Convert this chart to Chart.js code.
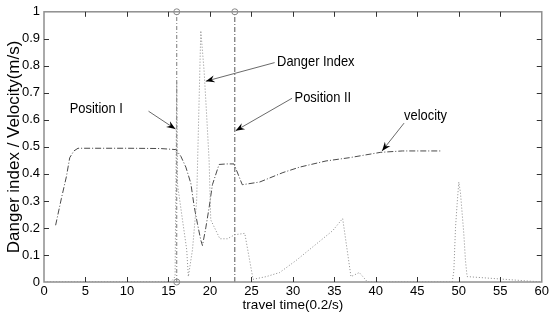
<!DOCTYPE html>
<html>
<head>
<meta charset="utf-8">
<script src="https://cdn.jsdelivr.net/npm/chart.js@4.4.1/dist/chart.umd.min.js"></script>
<style>
html, body { margin: 0; padding: 0; background: #fff; }
</style>
</head>
<body>
<canvas id="dangerChart" width="551" height="320"></canvas>
<script>
// values
var velocityX = [1.4, 2.1, 2.7, 3.1, 3.6, 4.1, 6, 10, 14, 15.9, 16.5, 17.1, 17.7, 18.1, 18.5, 18.9, 19.1, 19.5, 19.9, 20.3, 21.1, 22, 22.9, 23.9, 26, 28.8, 30.8, 34, 36.8, 40.6, 43.2, 48];
var velocityY = [0.21, 0.31, 0.39, 0.46, 0.485, 0.495, 0.495, 0.495, 0.494, 0.49, 0.465, 0.425, 0.365, 0.28, 0.215, 0.155, 0.135, 0.2, 0.275, 0.36, 0.435, 0.437, 0.437, 0.36, 0.37, 0.405, 0.425, 0.448, 0.46, 0.48, 0.485, 0.485];

var dangerX = [0, 15.3, 15.8, 16, 16.1, 16.6, 17.2, 17.4, 17.9, 18.4, 18.9, 19.3, 19.6, 19.9, 20.1, 21.2, 22.1, 23, 24.2, 25.2, 26.8, 28.4, 30.4, 32.4, 34.8, 36, 37, 38, 39, 49.2, 49.4, 49.6, 49.8, 50, 50.2, 50.6, 50.8, 51, 60];
var dangerY = [0, 0, 0.02, 0.74, 0.36, 0.25, 0.12, 0.02, 0.12, 0.3, 0.93, 0.78, 0.62, 0.45, 0.23, 0.16, 0.16, 0.175, 0.18, 0.01, 0.02, 0.035, 0.08, 0.13, 0.19, 0.235, 0.02, 0.035, 0, 0, 0.04, 0.2, 0.29, 0.37, 0.33, 0.18, 0.08, 0.02, 0];

var positionX = [16, 23];
var positionLabels = ['Position I', 'Position II'];

var xTickStep = 5;
var yTickStep = 0.1;

function toPoints(xs, ys) {
    var pts = [];
    for (var i = 0; i < xs.length; i++) pts.push({x: xs[i], y: ys[i]});
    return pts;
}

var sans = "'Liberation Sans', Arial, sans-serif";

// text + arrow callouts, in data units
var callouts = [
    {text: 'Position I',   tx: 3.1,  ty: 0.64,  fx: 12.6, fy: 0.632, ax: 15.85, ay: 0.566},
    {text: 'Danger Index', tx: 28.1, ty: 0.816, fx: 27.8, fy: 0.812, ax: 19.5,  ay: 0.743},
    {text: 'Position II',  tx: 30.2, ty: 0.68,  fx: 29.9, fy: 0.68,  ax: 23.1,  ay: 0.56},
    {text: 'velocity',     tx: 43.4, ty: 0.614, fx: 43.4, fy: 0.588, ax: 40.75, ay: 0.485}
];

var framePlugin = {
    id: 'frame',
    afterDatasetsDraw: function(chart) {
        var c = chart.ctx, a = chart.chartArea;
        var xs = chart.scales.x, ys = chart.scales.y;
        c.save();
        c.strokeStyle = '#8f8f8f';
        c.lineWidth = 1.5;
        c.strokeRect(a.left, a.top, a.right - a.left, a.bottom - a.top);
        c.strokeStyle = '#333';
        c.lineWidth = 1;
        c.beginPath();
        for (var v = xTickStep; v < 60; v += xTickStep) {
            var px = Math.round(xs.getPixelForValue(v)) + 0.5;
            c.moveTo(px, a.bottom); c.lineTo(px, a.bottom - 5);
            c.moveTo(px, a.top); c.lineTo(px, a.top + 5);
        }
        for (var k = 1; k < 10; k++) {
            var py = Math.round(ys.getPixelForValue(k * yTickStep)) + 0.5;
            c.moveTo(a.left, py); c.lineTo(a.left + 5, py);
            c.moveTo(a.right, py); c.lineTo(a.right - 5, py);
        }
        c.stroke();

        // callouts
        c.fillStyle = '#000';
        callouts.forEach(function(n) {
            var tx = xs.getPixelForValue(n.tx), ty = ys.getPixelForValue(n.ty);
            c.save();
            c.translate(tx, ty);
            c.scale(0.86, 1);
            c.font = '15px ' + sans;
            c.textBaseline = 'middle';
            c.fillText(n.text, 0, 0);
            c.restore();

            var x0 = xs.getPixelForValue(n.fx), y0 = ys.getPixelForValue(n.fy);
            var x1 = xs.getPixelForValue(n.ax), y1 = ys.getPixelForValue(n.ay);
            var ang = Math.atan2(y1 - y0, x1 - x0);
            c.strokeStyle = '#444';
            c.lineWidth = 0.8;
            c.beginPath(); c.moveTo(x0, y0); c.lineTo(x1, y1); c.stroke();
            c.beginPath();
            c.moveTo(x1, y1);
            c.lineTo(x1 - 9 * Math.cos(ang) + 3.5 * Math.sin(ang), y1 - 9 * Math.sin(ang) - 3.5 * Math.cos(ang));
            c.lineTo(x1 - 6 * Math.cos(ang), y1 - 6 * Math.sin(ang));
            c.lineTo(x1 - 9 * Math.cos(ang) - 3.5 * Math.sin(ang), y1 - 9 * Math.sin(ang) + 3.5 * Math.cos(ang));
            c.closePath();
            c.fill();
        });
        c.restore();
    }
};

var ctx = document.getElementById('dangerChart').getContext('2d');
var chart = new Chart(ctx, {
    type: 'line',
    data: {
        datasets: [{
            label: 'Danger Index',
            data: toPoints(dangerX, dangerY),
            borderColor: '#8a8a8a',
            borderWidth: 1,
            borderDash: [1, 2],
            pointRadius: 0,
            tension: 0
        }, {
            label: 'velocity',
            data: toPoints(velocityX, velocityY),
            borderColor: '#4a4a4a',
            borderWidth: 1,
            borderDash: [6, 2, 1, 2],
            pointRadius: 0,
            tension: 0
        }, {
            label: positionLabels[0],
            data: [{x: positionX[0], y: 0}, {x: positionX[0], y: 1}],
            borderColor: '#7a7a7a',
            borderWidth: 1,
            borderDash: [4, 2, 1, 2],
            pointRadius: 3,
            pointBackgroundColor: 'rgba(255,255,255,0)',
            pointBorderColor: '#888',
            pointBorderWidth: 1,
            clip: false
        }, {
            label: positionLabels[1],
            data: [{x: positionX[1], y: 0}, {x: positionX[1], y: 1}],
            borderColor: '#555',
            borderWidth: 1,
            borderDash: [5, 2, 1, 2],
            pointRadius: [0, 3],
            pointBackgroundColor: 'rgba(255,255,255,0)',
            pointBorderColor: '#888',
            pointBorderWidth: 1,
            clip: false
        }]
    },
    options: {
        responsive: false,
        devicePixelRatio: 1,
        animation: false,
        events: [],
        layout: { padding: { top: 10, right: 8, left: 0, bottom: 0 } },
        plugins: { legend: { display: false }, tooltip: { enabled: false } },
        scales: {
            x: {
                type: 'linear',
                min: 0,
                max: 60,
                grid: { display: false, drawTicks: false },
                border: { display: false },
                ticks: {
                    stepSize: xTickStep,
                    autoSkip: false,
                    maxRotation: 0,
                    padding: 2,
                    color: '#000',
                    font: { family: sans, size: 13 }
                },
                title: {
                    display: true,
                    text: 'travel time(0.2/s)',
                    color: '#000',
                    font: { family: sans, size: 13.5 },
                    padding: { top: 0, bottom: 7 }
                },
                afterFit: function(s) { s.height = 38; }
            },
            y: {
                min: 0,
                max: 1,
                grid: { display: false, drawTicks: false },
                border: { display: false },
                ticks: {
                    stepSize: yTickStep,
                    autoSkip: false,
                    padding: 4,
                    color: '#000',
                    font: { family: sans, size: 13 },
                    callback: function(v) { return String(Math.round(v * 10) / 10); }
                },
                title: {
                    display: true,
                    text: 'Danger index / Velocity(m/s)',
                    color: '#000',
                    font: { family: sans, size: 17 },
                    padding: { top: 4, bottom: 0 }
                },
                afterFit: function(s) { s.width = 44; }
            }
        }
    },
    plugins: [framePlugin]
});
</script>
</body>
</html>
